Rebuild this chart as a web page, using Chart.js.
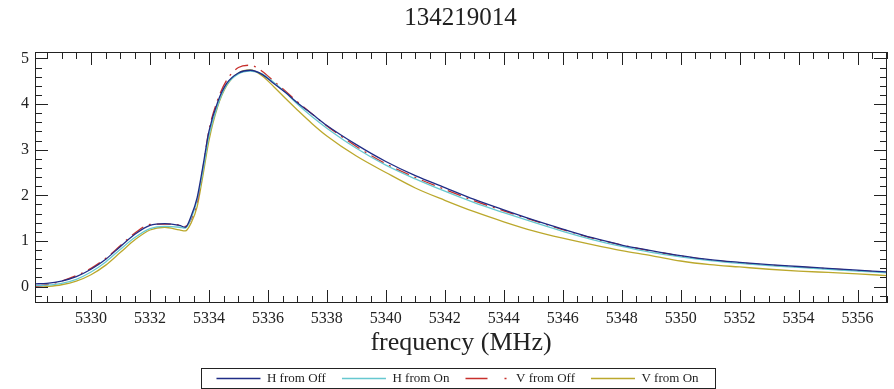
<!DOCTYPE html>
<html>
<head>
<meta charset="utf-8">
<script src="https://cdn.jsdelivr.net/npm/chart.js@4.4.1/dist/chart.umd.min.js"></script>
<style>
  html, body { margin: 0; padding: 0; background: #fff; }
  #wrap { width: 894px; height: 389px; }
</style>
</head>
<body>
<div id="wrap"><canvas id="chart"></canvas></div>
<script>
// --- Data ---
const freq = [5328.1, 5328.5, 5329, 5329.5, 5330, 5330.5, 5331, 5331.5, 5332, 5332.5, 5333, 5333.2, 5333.4,
    5333.6, 5333.8, 5334, 5334.3, 5334.6, 5335, 5335.4, 5335.8, 5336.2, 5336.6, 5337, 5337.5, 5338,
    5339, 5340, 5341, 5342, 5343, 5344, 5345, 5346, 5347, 5348, 5349, 5350, 5351, 5352, 5353, 5354,
    5355, 5356, 5357];

const hFromOff = [0.06, 0.07, 0.12, 0.22, 0.38, 0.60, 0.88, 1.15, 1.34, 1.38, 1.34, 1.30, 1.55,
    1.95, 2.65, 3.40, 4.05, 4.45, 4.68, 4.74, 4.65, 4.45, 4.25, 4.03, 3.78, 3.53,
    3.11, 2.74, 2.43, 2.17, 1.91, 1.68, 1.46, 1.26, 1.07, 0.91, 0.79, 0.68, 0.59, 0.53, 0.48, 0.44,
    0.40, 0.36, 0.32];

const hFromOn = [0.02, 0.03, 0.07, 0.16, 0.32, 0.54, 0.82, 1.08, 1.27, 1.32, 1.30, 1.28, 1.50,
    1.90, 2.55, 3.30, 3.98, 4.42, 4.66, 4.72, 4.66, 4.47, 4.25, 4.00, 3.72, 3.47,
    3.03, 2.66, 2.36, 2.09, 1.84, 1.62, 1.41, 1.21, 1.03, 0.88, 0.75, 0.65, 0.57, 0.51, 0.46, 0.42,
    0.38, 0.34, 0.30];

const vFromOff = [0.00, 0.04, 0.12, 0.24, 0.40, 0.62, 0.90, 1.18, 1.36, 1.37, 1.35, 1.32, 1.48,
    1.85, 2.60, 3.42, 4.10, 4.52, 4.80, 4.85, 4.72, 4.50, 4.28, 4.05, 3.78, 3.52,
    3.07, 2.69, 2.39, 2.13, 1.88, 1.66, 1.45, 1.25, 1.06, 0.91, 0.78, 0.67, 0.58, 0.52, 0.47, 0.43,
    0.39, 0.35, 0.31];

const vFromOn = [-0.02, 0.00, 0.04, 0.12, 0.26, 0.47, 0.75, 1.03, 1.24, 1.30, 1.24, 1.22, 1.40,
    1.75, 2.45, 3.20, 3.95, 4.40, 4.68, 4.75, 4.62, 4.38, 4.12, 3.87, 3.57, 3.30,
    2.86, 2.50, 2.16, 1.89, 1.64, 1.42, 1.22, 1.06, 0.92, 0.79, 0.68, 0.56, 0.48, 0.43, 0.38, 0.34,
    0.31, 0.28, 0.24];

const seriesLabels = ['H from Off', 'H from On', 'V from Off', 'V from On'];
const xTickValues = [5330, 5332, 5334, 5336, 5338, 5340, 5342, 5344, 5346, 5348, 5350, 5352, 5354, 5356];
const yTickValues = [0, 1, 2, 3, 4, 5];

// --- Styling ---
const serif = "'Liberation Serif', 'DejaVu Serif', serif";
const ink = '#222';
const navy = '#1f2c86';
const cyan = '#66c8d0';
const red = '#c8302c';
const olive = '#bba82c';

const toPoints = vals => freq.map((f, i) => ({ x: f, y: vals[i] }));

function lineSet(label, vals, color, dash) {
    return {
        label: label,
        data: toPoints(vals),
        borderColor: color,
        backgroundColor: color,
        borderWidth: 1.3,
        borderDash: dash || [],
        pointRadius: 0,
        cubicInterpolationMode: 'monotone',
        fill: false,
    };
}

// Frame around the plot with inward major/minor ticks on all four sides
const frameTicks = {
    id: 'frameTicks',
    afterDraw(chart) {
        const { ctx, chartArea: a, scales: { x, y } } = chart;
        ctx.save();
        ctx.strokeStyle = ink;
        ctx.lineWidth = 1;
        ctx.setLineDash([]);
        ctx.strokeRect(Math.round(a.left) + 0.5, Math.round(a.top) + 0.5,
            Math.round(a.width) - 1, Math.round(a.height) - 1);
        ctx.beginPath();
        for (let k = Math.ceil(x.min / 0.5); k * 0.5 <= x.max; k++) {
            const px = Math.round(x.getPixelForValue(k * 0.5)) + 0.5;
            const len = k % 4 === 0 ? 13 : 7;
            ctx.moveTo(px, a.bottom); ctx.lineTo(px, a.bottom - len);
            ctx.moveTo(px, a.top); ctx.lineTo(px, a.top + len);
        }
        for (let k = Math.ceil(y.min / 0.2); k * 0.2 <= y.max; k++) {
            const py = Math.round(y.getPixelForValue(k * 0.2)) + 0.5;
            const len = k % 5 === 0 ? 13 : 7;
            ctx.moveTo(a.left, py); ctx.lineTo(a.left + len, py);
            ctx.moveTo(a.right, py); ctx.lineTo(a.right - len, py);
        }
        ctx.stroke();

        // box round the legend
        const hb = chart.legend.legendHitBoxes;
        if (hb && hb.length) {
            const first = hb[0], last = hb[hb.length - 1];
            const l = Math.round(first.left - 15) + 0.5;
            const r = Math.round(last.left + last.width + 16) + 0.5;
            const t = Math.round(first.top - 4) + 0.5;
            ctx.strokeRect(l, t, r - l, Math.round(first.height + 7));
        }
        ctx.restore();
    }
};

// centre title and legend over the plot area like the reference
const blockNudge = {
    id: 'blockNudge',
    afterLayout(chart) {
        const lg = chart.legend;
        lg.left += 14; lg.right += 14;
        lg.top += 6; lg.bottom += 6;
        const tb = chart.titleBlock;
        tb.left += 17; tb.right += 17;
    }
};

new Chart(document.getElementById('chart').getContext('2d'), {
    type: 'line',
    data: {
        datasets: [
            lineSet(seriesLabels[0], hFromOff, navy),
            lineSet(seriesLabels[1], hFromOn, cyan),
            lineSet(seriesLabels[2], vFromOff, red, [14, 6, 2, 6]),
            lineSet(seriesLabels[3], vFromOn, olive),
        ]
    },
    options: {
        responsive: true,
        maintainAspectRatio: false,
        animation: false,
        layout: { padding: { left: 0, right: 7, top: 0, bottom: 0 } },
        plugins: {
            title: {
                display: true,
                text: '134219014',
                color: ink,
                font: { family: serif, size: 25, weight: 'normal' },
                padding: { top: 3, bottom: 19 }
            },
            legend: {
                position: 'bottom',
                labels: {
                    font: { family: serif, size: 13 },
                    color: ink,
                    usePointStyle: true,
                    pointStyle: 'line',
                    pointStyleWidth: 44,
                    padding: 16,
                    generateLabels: chart => {
                        const items = Chart.defaults.plugins.legend.labels.generateLabels(chart);
                        items[2].lineDash = [22, 17, 2, 60];
                        return items;
                    }
                }
            },
            tooltip: { enabled: false }
        },
        scales: {
            x: {
                type: 'linear',
                min: 5328.1,
                max: 5357,
                afterBuildTicks: s => { s.ticks = xTickValues.map(v => ({ value: v })); },
                afterFit: s => { s.height = 47; },
                grid: { display: false, drawTicks: false },
                border: { display: false },
                ticks: {
                    font: { family: serif, size: 16 }, color: ink, padding: 6,
                    maxRotation: 0, autoSkip: false,
                    callback: v => String(v)
                },
                title: {
                    display: true,
                    text: 'frequency (MHz)',
                    color: ink,
                    font: { family: serif, size: 26 },
                    padding: { top: 0, bottom: -9 }
                }
            },
            y: {
                min: -0.36,
                max: 5.14,
                afterBuildTicks: s => { s.ticks = yTickValues.map(v => ({ value: v })); },
                afterFit: s => { s.width = 35; },
                grid: { display: false, drawTicks: false },
                border: { display: false },
                ticks: {
                    font: { family: serif, size: 16 }, color: ink, padding: 6,
                    callback: v => String(v)
                }
            }
        }
    },
    plugins: [frameTicks, blockNudge]
});
</script>
</body>
</html>
